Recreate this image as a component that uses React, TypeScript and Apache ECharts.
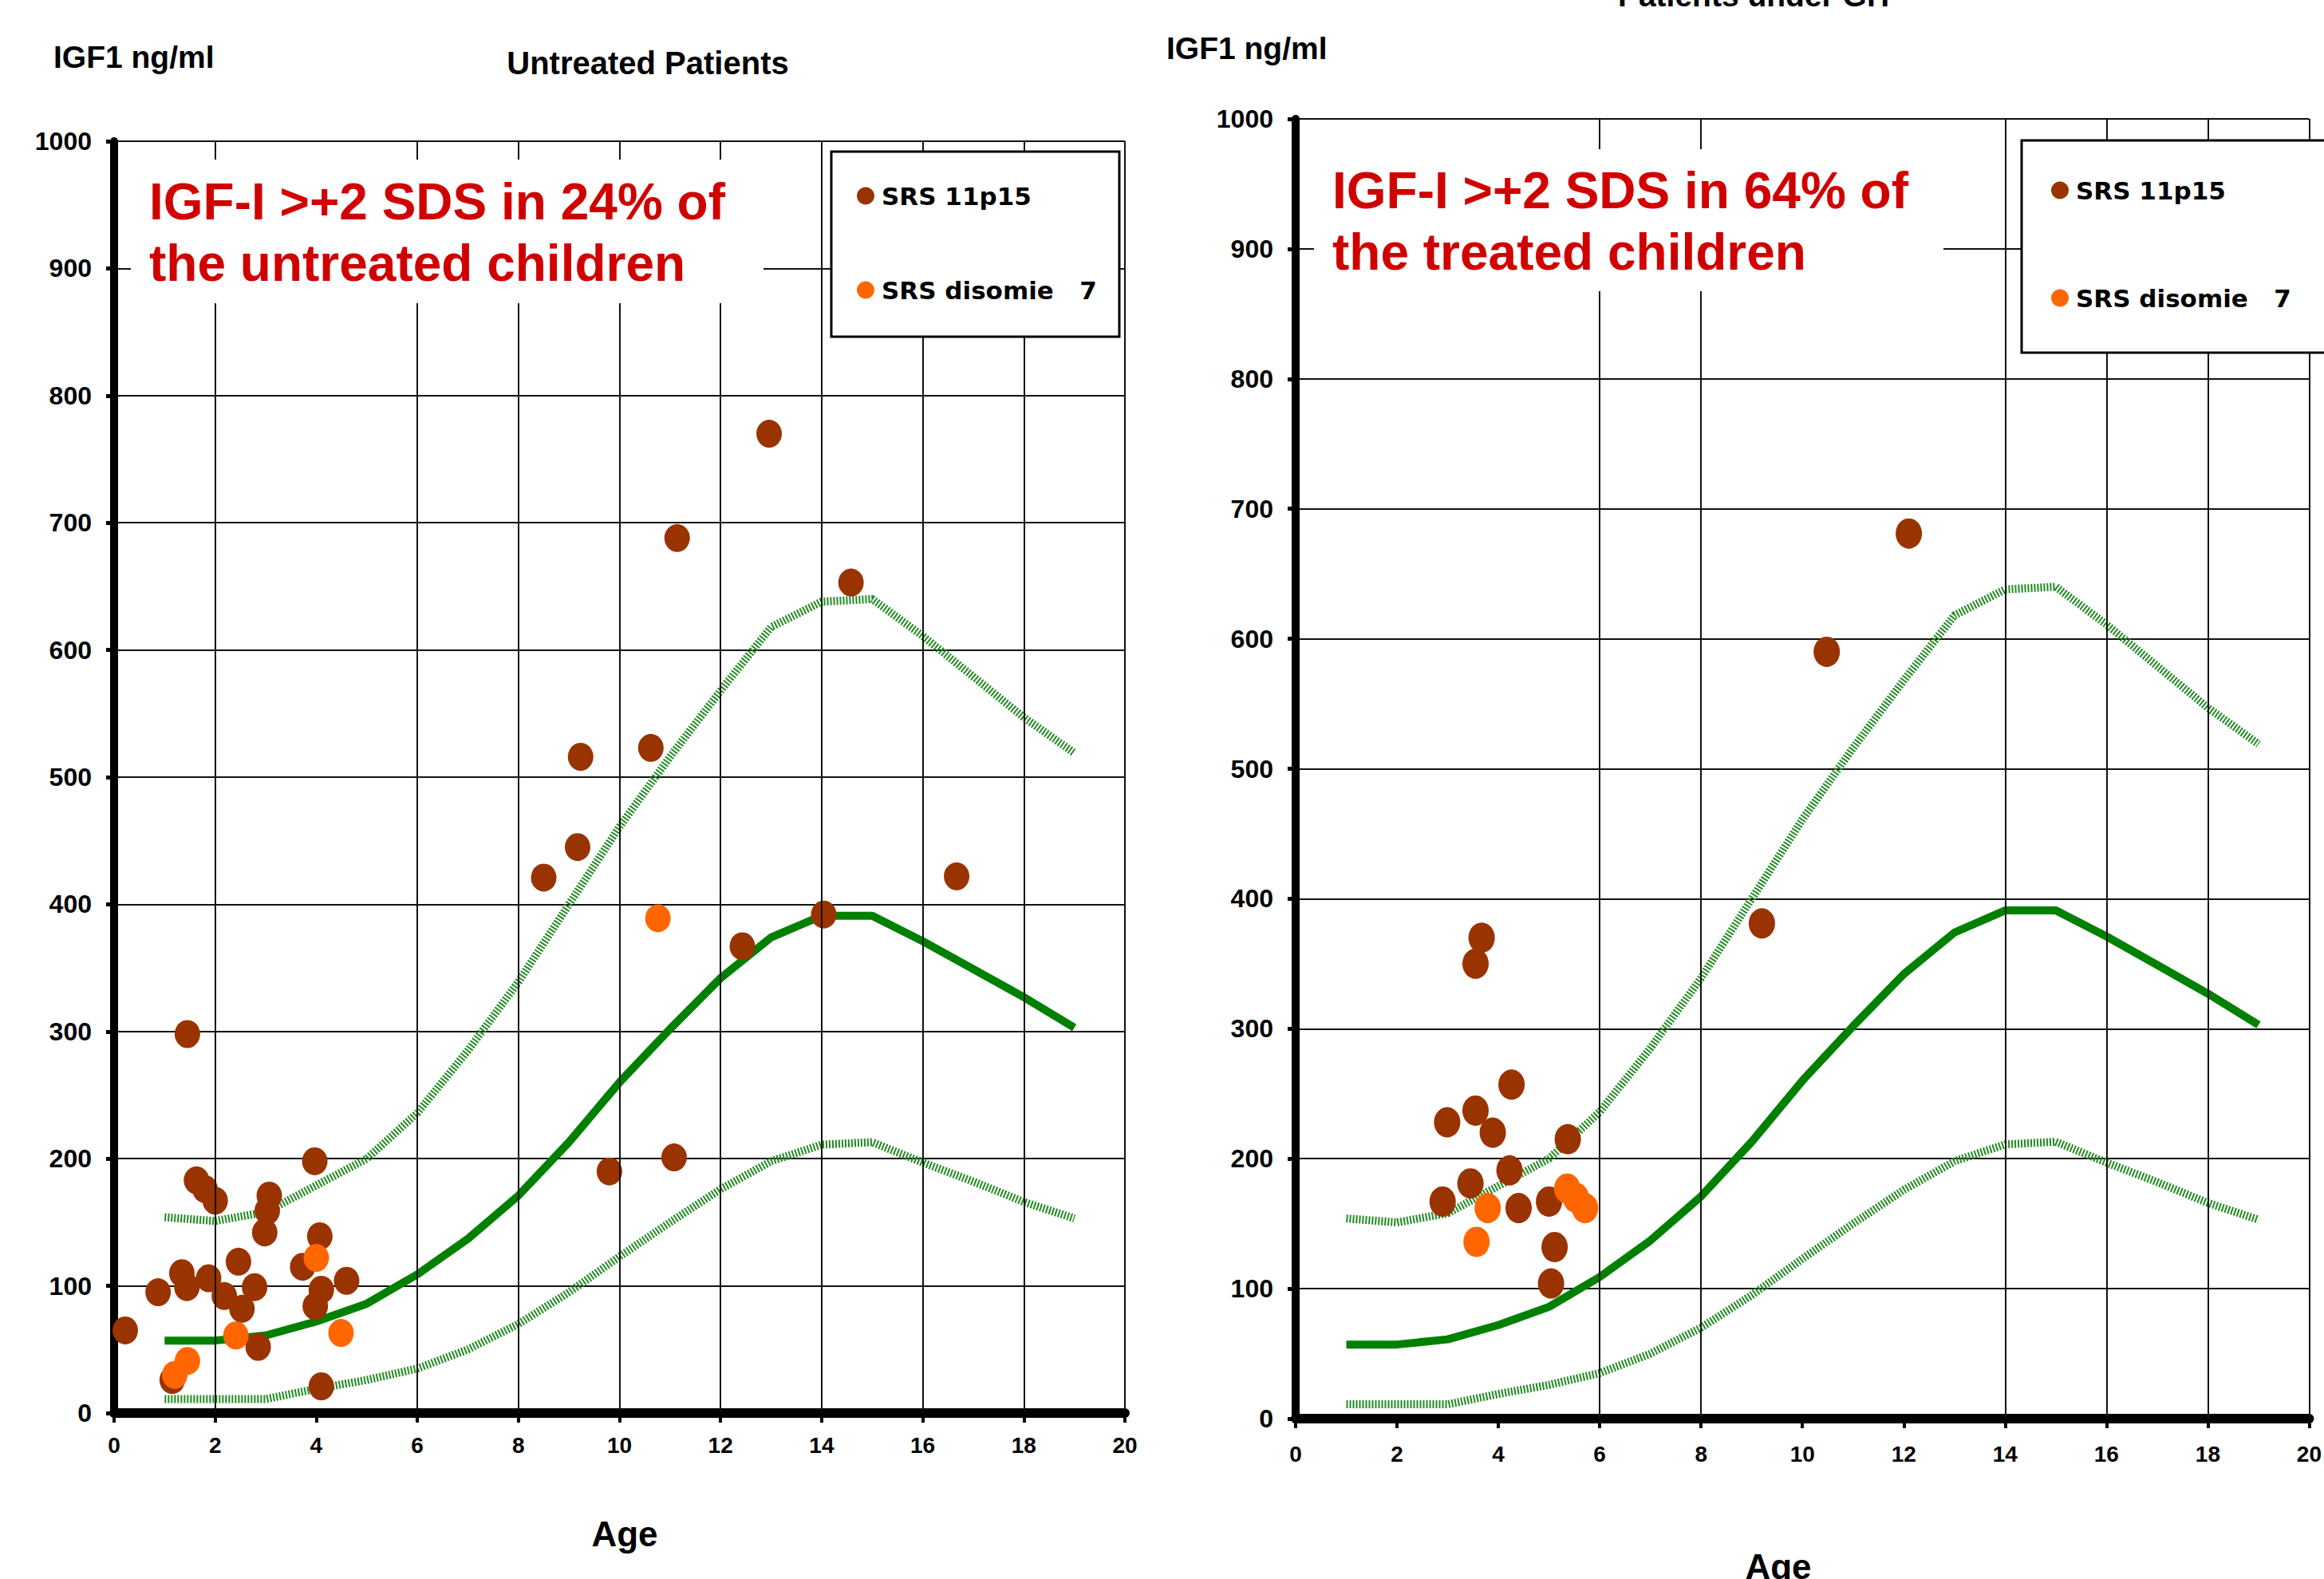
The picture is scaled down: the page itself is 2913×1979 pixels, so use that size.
import React, { useEffect, useRef } from "react";
import * as echarts from "echarts";

// ---------- data ----------
const refAges = [1, 2, 3, 4, 5, 6, 7, 8, 9, 10, 11, 12, 13, 14, 15, 16, 17, 18, 19];
const upperRef = [154, 151, 158, 179, 200, 236, 285, 339, 400, 461, 516, 568, 618, 638, 640, 611, 579, 547, 519];
const medianRef = [57, 57, 61, 72, 86, 109, 137, 171, 213, 260, 302, 342, 374, 391, 391, 371, 349, 327, 303];
const lowerRef = [11, 11, 11, 19, 26, 35, 50, 70, 95, 123, 150, 176, 198, 211, 213, 197, 182, 166, 153];

const untreated11p15: [number, number][] = [
  [0.22, 65], [0.87, 95], [1.15, 26], [1.34, 110], [1.44, 99], [1.45, 298], [1.63, 183], [1.8, 176],
  [1.87, 106], [2.0, 167], [2.18, 92], [2.46, 119], [2.53, 82], [2.78, 99], [2.85, 52], [2.98, 142],
  [3.03, 159], [3.07, 171], [3.73, 115], [3.97, 198], [3.98, 84], [4.07, 139], [4.1, 97], [4.1, 21],
  [4.6, 104], [8.5, 421], [9.17, 445], [9.23, 516], [9.8, 190], [10.62, 523], [11.08, 201], [11.14, 688],
  [12.43, 367], [12.96, 770], [14.04, 392], [14.58, 653], [16.67, 422],
];
const untreatedDisomie7: [number, number][] = [
  [1.2, 30], [1.45, 41], [2.41, 61], [4.0, 122], [4.49, 63], [10.76, 389],
];
const treated11p15: [number, number][] = [
  [2.9, 167], [2.99, 228], [3.45, 181], [3.55, 237], [3.55, 350], [3.67, 370], [3.89, 220], [4.22, 191],
  [4.26, 257], [4.4, 162], [5.0, 167], [5.04, 104], [5.11, 132], [5.37, 215], [9.2, 381], [10.48, 590],
  [12.1, 681],
];
const treatedDisomie7: [number, number][] = [
  [3.57, 136], [3.79, 162], [5.36, 177], [5.53, 170], [5.71, 162],
];

const xMin = 0, xMax = 20, xStep = 2;
const yMin = 0, yMax = 1000, yStep = 100;
// vertical grid lines that are visible in each panel
const leftVGrid = [2, 6, 8, 10, 12, 14, 16, 18, 20];
const rightVGrid = [6, 8, 14, 16, 18, 20];

const name11p15 = "SRS 11p15";
const nameDisomie = "SRS disomie   7";
const leftTitle = "Untreated Patients";
const rightTitle = "Patients under GH";
const yName = "IGF1 ng/ml";
const xName = "Age";
const leftNote = ["IGF-I >+2 SDS in 24% of", "the untreated children"];
const rightNote = ["IGF-I >+2 SDS in 64% of", "the treated children"];

// ---------- styles ----------
const BROWN = "#993300";
const ORANGE = "#ff6600";
const GREEN = "#008000";
const RED = "#d00000";
const FONT = "'Liberation Sans', Arial, sans-serif";

function makeAxes(idx: number, xLabelMargin: number, yLabelMargin: number) {
  const x = {
    type: "value", gridIndex: idx, min: xMin, max: xMax, interval: xStep,
    axisLine: { show: true, onZero: false, lineStyle: { color: "#000", width: 12 } },
    axisTick: { show: true, length: 12, lineStyle: { color: "#000", width: 4 } },
    axisLabel: { margin: xLabelMargin, fontSize: 28, fontWeight: "bold", color: "#000", fontFamily: FONT },
    splitLine: { show: false },
  };
  const y = {
    type: "value", gridIndex: idx, min: yMin, max: yMax, interval: yStep,
    axisLine: { show: true, onZero: false, lineStyle: { color: "#000", width: 10 } },
    axisTick: { show: true, length: 10, lineStyle: { color: "#000", width: 5 } },
    axisLabel: {
      margin: yLabelMargin, fontSize: 32, fontWeight: "bold", color: "#000", fontFamily: FONT,
      formatter: (v: number) => String(v),
    },
    splitLine: { show: true, lineStyle: { color: "#111", width: 2 } },
  };
  return { x, y };
}

function gridSeries(idx: number, xs: number[]) {
  return {
    name: "grid", type: "line", xAxisIndex: idx, yAxisIndex: idx, data: [], z: 1, silent: true,
    markLine: {
      silent: true, symbol: ["none", "none"], label: { show: false }, animation: false,
      emphasis: { disabled: true },
      lineStyle: { color: "#111", width: 2, type: "solid" },
      data: xs.map((v) => ({ xAxis: v })),
    },
  };
}

function refSeries(idx: number) {
  const pts = (arr: number[]) => refAges.map((a, i) => [a, arr[i]]);
  const hatched = { color: "#228b22", width: 10, type: [2, 2] as any, cap: "butt" };
  return [
    { name: "+2 SDS", type: "line", xAxisIndex: idx, yAxisIndex: idx, data: pts(upperRef), symbol: "none", lineStyle: hatched, z: 2 },
    { name: "Median", type: "line", xAxisIndex: idx, yAxisIndex: idx, data: pts(medianRef), symbol: "none", lineStyle: { color: GREEN, width: 10 }, z: 2 },
    { name: "-2 SDS", type: "line", xAxisIndex: idx, yAxisIndex: idx, data: pts(lowerRef), symbol: "none", lineStyle: hatched, z: 2 },
  ];
}

function scatterSeries(idx: number, a: [number, number][], b: [number, number][], size: number[]) {
  return [
    { name: name11p15, type: "scatter", xAxisIndex: idx, yAxisIndex: idx, data: a, symbol: "circle", symbolSize: size, itemStyle: { color: BROWN, opacity: 1 }, z: 3 },
    { name: nameDisomie, type: "scatter", xAxisIndex: idx, yAxisIndex: idx, data: b, symbol: "circle", symbolSize: size, itemStyle: { color: ORANGE, opacity: 1 }, z: 4 },
  ];
}

function txt(text: string, x: number, y: number, size: number, opts: any = {}) {
  return {
    type: "text", x, y, z: 30,
    style: {
      text, fill: opts.fill || "#000",
      font: `${opts.weight || "bold"} ${size}px ${opts.family || FONT}`,
      textAlign: opts.align || "left", align: opts.align || "left",
      textVerticalAlign: "middle", verticalAlign: "middle",
    },
  };
}

function whiteRect(x: number, y: number, w: number, h: number, border = false) {
  return {
    type: "rect", z: 10,
    shape: { x, y, width: w, height: h },
    style: { fill: "#fff", stroke: border ? "#000" : null, lineWidth: border ? 3 : 0 },
  };
}

export default function App() {
  const ref = useRef<HTMLDivElement>(null);
  useEffect(() => {
    if (!ref.current) return;
    const chart = echarts.init(ref.current, null, { renderer: "svg" });
    const L = makeAxes(0, 26, 28);
    const R = makeAxes(1, 30, 28);
    const legendBase = {
      orient: "vertical", icon: "circle", itemWidth: 22, itemHeight: 22, padding: 0,
      selectedMode: false, z: 20, data: [name11p15, nameDisomie],
      textStyle: {
        fontSize: 31, fontWeight: "bold", fontFamily: "'DejaVu Sans', sans-serif", color: "#000",
        lineHeight: 30, padding: [0, 0, 0, 4],
      },
    };
    const option: any = {
      animation: false,
      backgroundColor: "#fff",
      grid: [
        { left: 143, top: 177, width: 1267, height: 1594 },
        { left: 1624, top: 149, width: 1276, height: 1629 },
      ],
      xAxis: [L.x, R.x],
      yAxis: [L.y, R.y],
      legend: [
        { ...legendBase, left: 1074, top: 230, itemGap: 87 },
        { ...legendBase, left: 2571, top: 223, itemGap: 104 },
      ],
      series: [
        gridSeries(0, leftVGrid),
        ...refSeries(0),
        ...scatterSeries(0, untreated11p15, untreatedDisomie7, [32, 35]),
        gridSeries(1, rightVGrid),
        ...refSeries(1),
        ...scatterSeries(1, treated11p15, treatedDisomie7, [33, 38]),
      ],
      graphic: [
        // white boxes behind annotations (hide grid lines)
        whiteRect(164, 200, 793, 180),
        whiteRect(1647, 187, 789, 178),
        // legend boxes
        whiteRect(1042, 190, 361, 232, true),
        whiteRect(2534, 176, 420, 266, true),
        // titles and axis names
        txt(yName, 67, 71, 39),
        txt(leftTitle, 812, 79, 40, { align: "center" }),
        txt(yName, 1462, 60, 39),
        txt(rightTitle, 2198, -6, 39, { align: "center" }),
        txt(xName, 783, 1922, 44, { align: "center" }),
        txt(xName, 2229, 1963, 44, { align: "center" }),
        // red annotations
        txt(leftNote[0], 187, 253, 64, { fill: RED }),
        txt(leftNote[1], 187, 330, 64, { fill: RED }),
        txt(rightNote[0], 1670, 239, 64, { fill: RED }),
        txt(rightNote[1], 1670, 316, 64, { fill: RED }),
      ],
    };
    chart.setOption(option);
    return () => chart.dispose();
  }, []);
  return <div ref={ref} style={{ position: "absolute", left: 0, top: 0, width: 2913, height: 1979 }} />;
}
